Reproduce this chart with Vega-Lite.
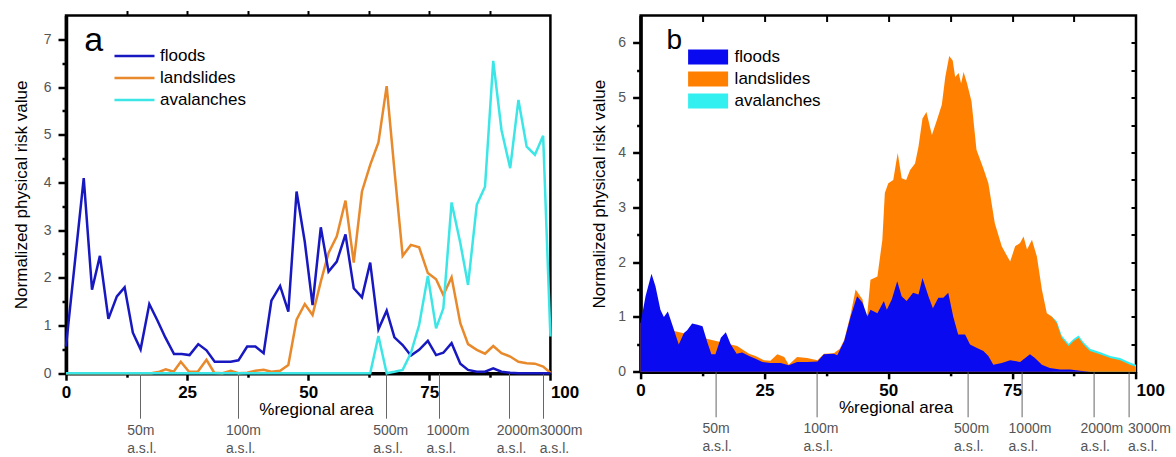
{
  "$schema": "https://vega.github.io/schema/vega-lite/v6.json",
  "padding": {"left": 10, "top": 7.5, "right": 0, "bottom": 0},
  "background": "#ffffff",
  "config": {
    "view": {"stroke": "#000000", "strokeWidth": 2.5, "strokeOpacity": 1},
    "font": "Liberation Sans",
    "axis": {"labelFont": "Liberation Sans", "titleFont": "Liberation Sans", "grid": false, "labelOverlap": false, "ticks": true,
      "domainColor": "#000000", "tickColor": "#000000", "domainWidth": 3.5, "tickWidth": 2.5, "tickOpacity": 1, "domainOpacity": 1}
  },
  "resolve": {"scale": {"color": "independent"}, "legend": {"color": "independent"}},
  "bounds": "flush",
  "spacing": 89.6,
  "datasets": {
    "a": [
      {"x": 0, "v": 0, "s": "landslides"}, {"x": 17.6, "v": 0, "s": "landslides"}, {"x": 19.3, "v": 0.03, "s": "landslides"}, {"x": 20.6, "v": 0.08, "s": "landslides"}, {"x": 22.2, "v": 0.03, "s": "landslides"}, {"x": 23.7, "v": 0.24, "s": "landslides"}, {"x": 25.4, "v": 0.03, "s": "landslides"}, {"x": 27.2, "v": 0.03, "s": "landslides"}, {"x": 29.0, "v": 0.28, "s": "landslides"}, {"x": 30.6, "v": 0.01, "s": "landslides"}, {"x": 32.3, "v": 0, "s": "landslides"}, {"x": 34.0, "v": 0.05, "s": "landslides"}, {"x": 35.6, "v": 0, "s": "landslides"}, {"x": 37.4, "v": 0.01, "s": "landslides"}, {"x": 39.1, "v": 0.05, "s": "landslides"}, {"x": 40.8, "v": 0.07, "s": "landslides"}, {"x": 42.4, "v": 0.03, "s": "landslides"}, {"x": 44.2, "v": 0.05, "s": "landslides"}, {"x": 45.9, "v": 0.17, "s": "landslides"}, {"x": 47.6, "v": 1.12, "s": "landslides"}, {"x": 49.3, "v": 1.45, "s": "landslides"}, {"x": 50.9, "v": 1.22, "s": "landslides"}, {"x": 52.6, "v": 1.92, "s": "landslides"}, {"x": 54.2, "v": 2.52, "s": "landslides"}, {"x": 55.9, "v": 2.87, "s": "landslides"}, {"x": 57.7, "v": 3.62, "s": "landslides"}, {"x": 59.4, "v": 2.32, "s": "landslides"}, {"x": 61.1, "v": 3.81, "s": "landslides"}, {"x": 62.8, "v": 4.37, "s": "landslides"}, {"x": 64.5, "v": 4.84, "s": "landslides"}, {"x": 66.2, "v": 6.02, "s": "landslides"}, {"x": 67.8, "v": 4.26, "s": "landslides"}, {"x": 69.5, "v": 2.46, "s": "landslides"}, {"x": 71.2, "v": 2.69, "s": "landslides"}, {"x": 72.9, "v": 2.64, "s": "landslides"}, {"x": 74.7, "v": 2.10, "s": "landslides"}, {"x": 76.4, "v": 1.97, "s": "landslides"}, {"x": 77.9, "v": 1.64, "s": "landslides"}, {"x": 79.6, "v": 2.01, "s": "landslides"}, {"x": 81.4, "v": 1.05, "s": "landslides"}, {"x": 83.0, "v": 0.61, "s": "landslides"}, {"x": 84.8, "v": 0.49, "s": "landslides"}, {"x": 86.5, "v": 0.41, "s": "landslides"}, {"x": 88.2, "v": 0.57, "s": "landslides"}, {"x": 89.9, "v": 0.42, "s": "landslides"}, {"x": 91.7, "v": 0.35, "s": "landslides"}, {"x": 93.4, "v": 0.24, "s": "landslides"}, {"x": 95.1, "v": 0.21, "s": "landslides"}, {"x": 96.8, "v": 0.20, "s": "landslides"}, {"x": 98.5, "v": 0.14, "s": "landslides"}, {"x": 100, "v": 0.01, "s": "landslides"},
      {"x": 0, "v": 0.56, "s": "floods"}, {"x": 3.66, "v": 4.09, "s": "floods"}, {"x": 5.37, "v": 1.75, "s": "floods"}, {"x": 7.0, "v": 2.46, "s": "floods"}, {"x": 8.75, "v": 1.14, "s": "floods"}, {"x": 10.5, "v": 1.61, "s": "floods"}, {"x": 12.1, "v": 1.80, "s": "floods"}, {"x": 13.8, "v": 0.85, "s": "floods"}, {"x": 15.4, "v": 0.50, "s": "floods"}, {"x": 17.2, "v": 1.45, "s": "floods"}, {"x": 18.9, "v": 1.10, "s": "floods"}, {"x": 20.5, "v": 0.75, "s": "floods"}, {"x": 22.3, "v": 0.40, "s": "floods"}, {"x": 23.9, "v": 0.40, "s": "floods"}, {"x": 25.5, "v": 0.38, "s": "floods"}, {"x": 27.3, "v": 0.61, "s": "floods"}, {"x": 29.0, "v": 0.48, "s": "floods"}, {"x": 30.7, "v": 0.24, "s": "floods"}, {"x": 32.3, "v": 0.24, "s": "floods"}, {"x": 34.0, "v": 0.24, "s": "floods"}, {"x": 35.6, "v": 0.27, "s": "floods"}, {"x": 37.4, "v": 0.56, "s": "floods"}, {"x": 39.1, "v": 0.56, "s": "floods"}, {"x": 40.8, "v": 0.42, "s": "floods"}, {"x": 42.4, "v": 1.52, "s": "floods"}, {"x": 44.2, "v": 1.83, "s": "floods"}, {"x": 45.9, "v": 1.29, "s": "floods"}, {"x": 47.6, "v": 3.81, "s": "floods"}, {"x": 49.3, "v": 2.75, "s": "floods"}, {"x": 50.9, "v": 1.43, "s": "floods"}, {"x": 52.6, "v": 3.06, "s": "floods"}, {"x": 54.2, "v": 2.13, "s": "floods"}, {"x": 55.9, "v": 2.34, "s": "floods"}, {"x": 57.7, "v": 2.91, "s": "floods"}, {"x": 59.4, "v": 1.78, "s": "floods"}, {"x": 61.1, "v": 1.59, "s": "floods"}, {"x": 62.8, "v": 2.32, "s": "floods"}, {"x": 64.5, "v": 0.92, "s": "floods"}, {"x": 66.2, "v": 1.31, "s": "floods"}, {"x": 67.8, "v": 0.75, "s": "floods"}, {"x": 69.5, "v": 0.59, "s": "floods"}, {"x": 71.2, "v": 0.37, "s": "floods"}, {"x": 72.9, "v": 0.49, "s": "floods"}, {"x": 74.7, "v": 0.68, "s": "floods"}, {"x": 76.4, "v": 0.38, "s": "floods"}, {"x": 77.9, "v": 0.43, "s": "floods"}, {"x": 79.6, "v": 0.63, "s": "floods"}, {"x": 81.4, "v": 0.20, "s": "floods"}, {"x": 83.0, "v": 0.07, "s": "floods"}, {"x": 84.8, "v": 0.03, "s": "floods"}, {"x": 86.5, "v": 0.03, "s": "floods"}, {"x": 88.2, "v": 0.10, "s": "floods"}, {"x": 89.9, "v": 0.03, "s": "floods"}, {"x": 91.7, "v": 0.01, "s": "floods"}, {"x": 93.4, "v": 0, "s": "floods"}, {"x": 100, "v": 0, "s": "floods"},
      {"x": 0, "v": 0, "s": "avalanches"}, {"x": 62.8, "v": 0, "s": "avalanches"}, {"x": 64.5, "v": 0.78, "s": "avalanches"}, {"x": 66.2, "v": 0, "s": "avalanches"}, {"x": 67.8, "v": 0.03, "s": "avalanches"}, {"x": 69.5, "v": 0.07, "s": "avalanches"}, {"x": 71.2, "v": 0.42, "s": "avalanches"}, {"x": 72.9, "v": 1.01, "s": "avalanches"}, {"x": 74.7, "v": 2.04, "s": "avalanches"}, {"x": 76.4, "v": 0.94, "s": "avalanches"}, {"x": 77.9, "v": 1.36, "s": "avalanches"}, {"x": 79.6, "v": 3.58, "s": "avalanches"}, {"x": 81.4, "v": 2.73, "s": "avalanches"}, {"x": 83.0, "v": 1.85, "s": "avalanches"}, {"x": 84.8, "v": 3.53, "s": "avalanches"}, {"x": 86.5, "v": 3.91, "s": "avalanches"}, {"x": 88.2, "v": 6.55, "s": "avalanches"}, {"x": 89.9, "v": 5.10, "s": "avalanches"}, {"x": 91.7, "v": 4.30, "s": "avalanches"}, {"x": 93.4, "v": 5.73, "s": "avalanches"}, {"x": 95.1, "v": 4.75, "s": "avalanches"}, {"x": 96.8, "v": 4.58, "s": "avalanches"}, {"x": 98.5, "v": 4.98, "s": "avalanches"}, {"x": 100, "v": 0.77, "s": "avalanches"}
    ],
    "b": [
      {"x": 83.0, "v": 1.01, "s": "avalanches"}, {"x": 84.0, "v": 0.92, "s": "avalanches"}, {"x": 85.0, "v": 0.66, "s": "avalanches"}, {"x": 86.4, "v": 0.51, "s": "avalanches"}, {"x": 87.4, "v": 0.60, "s": "avalanches"}, {"x": 88.4, "v": 0.66, "s": "avalanches"}, {"x": 89.4, "v": 0.54, "s": "avalanches"}, {"x": 90.7, "v": 0.42, "s": "avalanches"}, {"x": 92.7, "v": 0.36, "s": "avalanches"}, {"x": 94.8, "v": 0.29, "s": "avalanches"}, {"x": 96.8, "v": 0.25, "s": "avalanches"}, {"x": 98.8, "v": 0.17, "s": "avalanches"}, {"x": 100, "v": 0.13, "s": "avalanches"},
      {"x": 0, "v": 0.89, "s": "landslides"}, {"x": 18.2, "v": 0.50, "s": "landslides"}, {"x": 19.5, "v": 0.47, "s": "landslides"}, {"x": 20.5, "v": 0.41, "s": "landslides"}, {"x": 21.9, "v": 0.33, "s": "landslides"}, {"x": 23.2, "v": 0.29, "s": "landslides"}, {"x": 24.9, "v": 0.21, "s": "landslides"}, {"x": 26.2, "v": 0.20, "s": "landslides"}, {"x": 27.6, "v": 0.32, "s": "landslides"}, {"x": 29.0, "v": 0.27, "s": "landslides"}, {"x": 29.9, "v": 0.13, "s": "landslides"}, {"x": 31.6, "v": 0.27, "s": "landslides"}, {"x": 33.6, "v": 0.25, "s": "landslides"}, {"x": 35.7, "v": 0.21, "s": "landslides"}, {"x": 37.0, "v": 0.33, "s": "landslides"}, {"x": 39.0, "v": 0.34, "s": "landslides"}, {"x": 40.2, "v": 0.42, "s": "landslides"}, {"x": 41.1, "v": 0.58, "s": "landslides"}, {"x": 42.4, "v": 1.05, "s": "landslides"}, {"x": 43.4, "v": 1.50, "s": "landslides"}, {"x": 44.8, "v": 1.32, "s": "landslides"}, {"x": 45.6, "v": 0.90, "s": "landslides"}, {"x": 46.4, "v": 1.68, "s": "landslides"}, {"x": 47.8, "v": 1.74, "s": "landslides"}, {"x": 48.8, "v": 2.41, "s": "landslides"}, {"x": 49.3, "v": 3.26, "s": "landslides"}, {"x": 50.0, "v": 3.44, "s": "landslides"}, {"x": 51.0, "v": 3.50, "s": "landslides"}, {"x": 51.9, "v": 3.99, "s": "landslides"}, {"x": 52.7, "v": 3.53, "s": "landslides"}, {"x": 53.6, "v": 3.50, "s": "landslides"}, {"x": 54.4, "v": 3.68, "s": "landslides"}, {"x": 55.4, "v": 3.80, "s": "landslides"}, {"x": 56.1, "v": 4.11, "s": "landslides"}, {"x": 56.9, "v": 4.62, "s": "landslides"}, {"x": 57.7, "v": 4.74, "s": "landslides"}, {"x": 58.8, "v": 4.32, "s": "landslides"}, {"x": 59.8, "v": 4.59, "s": "landslides"}, {"x": 60.8, "v": 4.87, "s": "landslides"}, {"x": 61.5, "v": 5.38, "s": "landslides"}, {"x": 62.3, "v": 5.76, "s": "landslides"}, {"x": 63.0, "v": 5.68, "s": "landslides"}, {"x": 63.5, "v": 5.38, "s": "landslides"}, {"x": 64.2, "v": 5.45, "s": "landslides"}, {"x": 64.7, "v": 5.26, "s": "landslides"}, {"x": 65.2, "v": 5.47, "s": "landslides"}, {"x": 65.9, "v": 5.26, "s": "landslides"}, {"x": 66.8, "v": 4.93, "s": "landslides"}, {"x": 67.8, "v": 4.05, "s": "landslides"}, {"x": 69.2, "v": 3.71, "s": "landslides"}, {"x": 70.2, "v": 3.44, "s": "landslides"}, {"x": 71.5, "v": 2.71, "s": "landslides"}, {"x": 72.9, "v": 2.29, "s": "landslides"}, {"x": 74.6, "v": 2.01, "s": "landslides"}, {"x": 75.6, "v": 2.29, "s": "landslides"}, {"x": 76.6, "v": 2.35, "s": "landslides"}, {"x": 77.3, "v": 2.47, "s": "landslides"}, {"x": 78.0, "v": 2.23, "s": "landslides"}, {"x": 79.0, "v": 2.41, "s": "landslides"}, {"x": 80.0, "v": 2.10, "s": "landslides"}, {"x": 81.0, "v": 1.50, "s": "landslides"}, {"x": 82.0, "v": 1.07, "s": "landslides"}, {"x": 83.0, "v": 1.01, "s": "landslides"}, {"x": 84.0, "v": 0.89, "s": "landslides"}, {"x": 85.0, "v": 0.62, "s": "landslides"}, {"x": 86.4, "v": 0.47, "s": "landslides"}, {"x": 87.4, "v": 0.56, "s": "landslides"}, {"x": 88.4, "v": 0.62, "s": "landslides"}, {"x": 89.4, "v": 0.50, "s": "landslides"}, {"x": 90.7, "v": 0.38, "s": "landslides"}, {"x": 92.7, "v": 0.32, "s": "landslides"}, {"x": 94.8, "v": 0.25, "s": "landslides"}, {"x": 96.8, "v": 0.21, "s": "landslides"}, {"x": 98.8, "v": 0.13, "s": "landslides"}, {"x": 100, "v": 0.09, "s": "landslides"},
      {"x": 0, "v": 0.89, "s": "floods"}, {"x": 1.0, "v": 1.38, "s": "floods"}, {"x": 2.2, "v": 1.79, "s": "floods"}, {"x": 3.0, "v": 1.56, "s": "floods"}, {"x": 4.0, "v": 1.13, "s": "floods"}, {"x": 4.7, "v": 1.0, "s": "floods"}, {"x": 5.5, "v": 1.10, "s": "floods"}, {"x": 6.4, "v": 0.86, "s": "floods"}, {"x": 7.7, "v": 0.50, "s": "floods"}, {"x": 8.75, "v": 0.71, "s": "floods"}, {"x": 9.4, "v": 0.76, "s": "floods"}, {"x": 10.4, "v": 0.88, "s": "floods"}, {"x": 11.5, "v": 0.86, "s": "floods"}, {"x": 12.5, "v": 0.83, "s": "floods"}, {"x": 13.5, "v": 0.53, "s": "floods"}, {"x": 14.3, "v": 0.32, "s": "floods"}, {"x": 15.1, "v": 0.32, "s": "floods"}, {"x": 16.2, "v": 0.62, "s": "floods"}, {"x": 17.2, "v": 0.72, "s": "floods"}, {"x": 18.2, "v": 0.50, "s": "floods"}, {"x": 19.4, "v": 0.33, "s": "floods"}, {"x": 20.5, "v": 0.35, "s": "floods"}, {"x": 21.9, "v": 0.29, "s": "floods"}, {"x": 23.2, "v": 0.24, "s": "floods"}, {"x": 24.6, "v": 0.18, "s": "floods"}, {"x": 26.2, "v": 0.16, "s": "floods"}, {"x": 28.3, "v": 0.16, "s": "floods"}, {"x": 29.9, "v": 0.12, "s": "floods"}, {"x": 31.6, "v": 0.18, "s": "floods"}, {"x": 33.6, "v": 0.18, "s": "floods"}, {"x": 35.7, "v": 0.19, "s": "floods"}, {"x": 37.0, "v": 0.32, "s": "floods"}, {"x": 39.0, "v": 0.33, "s": "floods"}, {"x": 39.7, "v": 0.30, "s": "floods"}, {"x": 41.1, "v": 0.56, "s": "floods"}, {"x": 42.4, "v": 1.01, "s": "floods"}, {"x": 43.7, "v": 1.38, "s": "floods"}, {"x": 44.8, "v": 1.26, "s": "floods"}, {"x": 45.8, "v": 1.01, "s": "floods"}, {"x": 46.4, "v": 1.13, "s": "floods"}, {"x": 47.8, "v": 1.07, "s": "floods"}, {"x": 49.1, "v": 1.29, "s": "floods"}, {"x": 49.7, "v": 1.13, "s": "floods"}, {"x": 50.7, "v": 1.32, "s": "floods"}, {"x": 51.8, "v": 1.65, "s": "floods"}, {"x": 52.7, "v": 1.38, "s": "floods"}, {"x": 53.7, "v": 1.29, "s": "floods"}, {"x": 55.0, "v": 1.44, "s": "floods"}, {"x": 56.1, "v": 1.41, "s": "floods"}, {"x": 56.9, "v": 1.71, "s": "floods"}, {"x": 58.1, "v": 1.38, "s": "floods"}, {"x": 59.0, "v": 1.16, "s": "floods"}, {"x": 60.1, "v": 1.35, "s": "floods"}, {"x": 61.1, "v": 1.35, "s": "floods"}, {"x": 62.1, "v": 1.44, "s": "floods"}, {"x": 63.1, "v": 1.01, "s": "floods"}, {"x": 64.1, "v": 0.68, "s": "floods"}, {"x": 65.5, "v": 0.68, "s": "floods"}, {"x": 66.5, "v": 0.50, "s": "floods"}, {"x": 67.8, "v": 0.44, "s": "floods"}, {"x": 69.2, "v": 0.38, "s": "floods"}, {"x": 70.2, "v": 0.29, "s": "floods"}, {"x": 71.2, "v": 0.13, "s": "floods"}, {"x": 72.9, "v": 0.16, "s": "floods"}, {"x": 74.6, "v": 0.21, "s": "floods"}, {"x": 76.6, "v": 0.18, "s": "floods"}, {"x": 78.6, "v": 0.32, "s": "floods"}, {"x": 79.6, "v": 0.25, "s": "floods"}, {"x": 81.0, "v": 0.13, "s": "floods"}, {"x": 82.6, "v": 0.07, "s": "floods"}, {"x": 84.7, "v": 0.04, "s": "floods"}, {"x": 86.7, "v": 0.04, "s": "floods"}, {"x": 88.7, "v": 0.02, "s": "floods"}, {"x": 90.7, "v": 0, "s": "floods"}, {"x": 100, "v": 0, "s": "floods"}
    ],
    "elev": [
      {"x": 15.2, "elev": "50m"}, {"x": 35.6, "elev": "100m"}, {"x": 66.0, "elev": "500m"}, {"x": 77.0, "elev": "1000m"}, {"x": 91.5, "elev": "2000m"}, {"x": 98.5, "elev": "3000m"}
    ]
  },
  "hconcat": [
    {
      "width": 484.4,
      "height": 357.7,
      "resolve": {"axis": {"x": "independent", "y": "independent"}},
      "layer": [
        {
          "data": {"name": "a"},
          "mark": {"type": "line", "strokeWidth": 2.5},
          "encoding": {
            "x": {"field": "x", "type": "quantitative", "scale": {"domain": [0, 100], "nice": false, "zero": false},
              "axis": {"orient": "bottom", "values": [0, 12.5, 25, 37.5, 50, 62.5, 75, 87.5, 100], "ticks": true,
                "labelExpr": "datum.value % 25 === 0 ? format(datum.value, 'd') : ''",
                "tickSize": {"condition": {"test": "datum.value % 25 === 0", "value": 7}, "value": 4},
                "tickColor": "#000000", "tickWidth": 2.5,
                "labelFontSize": 17, "labelFontWeight": "bold", "labelColor": "#000", "labelPadding": 4,
                "labelAlign": {"condition": {"test": "datum.value === 100", "value": "left"}, "value": "center"},
                "title": "%regional area", "titleFontSize": 17, "titleFontWeight": "normal", "titleColor": "#000",
                "titleX": 250, "titleY": 28, "titleBaseline": "top", "titleAlign": "center"}},
            "y": {"field": "v", "type": "quantitative", "scale": {"domain": [0, 7.5], "nice": false},
              "axis": {"orient": "left", "values": [0, 0.5, 1, 1.5, 2, 2.5, 3, 3.5, 4, 4.5, 5, 5.5, 6, 6.5, 7], "ticks": true,
                "labelExpr": "datum.value % 1 === 0 ? format(datum.value, 'd') : ''",
                "tickSize": {"condition": {"test": "datum.value % 1 === 0", "value": 8}, "value": 4},
                "tickColor": "#000000", "tickWidth": 2.5,
                "labelFontSize": 14, "labelColor": "#555", "labelPadding": 7,
                "title": "Normalized physical risk value", "titleFontSize": 17, "titleFontWeight": "normal", "titleColor": "#000",
                "titleX": -45, "titleBaseline": "middle", "titleAngle": -90}},
            "color": {"field": "s", "type": "nominal",
              "scale": {"domain": ["floods", "landslides", "avalanches"], "range": ["#1818C0", "#E8892B", "#3DE6E6"]},
              "legend": {"orient": "none", "legendX": 60, "legendY": 32, "title": null, "symbolType": "M-4,0H4", "symbolSize": 100,
                "symbolStrokeWidth": 2.5, "labelFontSize": 17, "labelFont": "Liberation Sans", "labelColor": "#000",
                "rowPadding": 4, "labelOffset": 17, "padding": 0}}
          }
        },
        {
          "data": {"values": [{"label": "a", "x": 5.7, "y": 6.97}]},
          "mark": {"type": "text", "fontSize": 34, "font": "Liberation Sans", "align": "center", "baseline": "middle", "color": "#000"},
          "encoding": {
            "text": {"field": "label"},
            "x": {"field": "x", "type": "quantitative", "scale": {"domain": [0, 100], "nice": false, "zero": false},
              "axis": {"orient": "top", "values": [12.5, 25, 37.5, 50, 62.5, 75, 87.5], "labels": false, "domain": false, "ticks": true,
                "tickSize": 5, "tickColor": "#000000", "tickWidth": 2, "title": null}},
            "y": {"field": "y", "type": "quantitative", "scale": {"domain": [0, 7.5], "nice": false}, "axis": null}
          }
        },
        {
          "data": {"name": "elev"},
          "mark": {"type": "point", "opacity": 0},
          "encoding": {
            "x": {"field": "x", "type": "quantitative", "scale": {"domain": [0, 100], "nice": false, "zero": false},
              "axis": {"orient": "bottom", "values": [15.2, 35.6, 66.0, 77.0, 91.5, 98.5], "domain": false, "ticks": true,
                "tickSize": 45, "tickColor": "#666", "tickWidth": 1,
                "labelExpr": "[datum.value < 25 ? '50m' : datum.value < 50 ? '100m' : datum.value < 70 ? '500m' : datum.value < 85 ? '1000m' : datum.value < 95 ? '2000m' : '3000m', 'a.s.l.']",
                "labelFontSize": 14, "labelColor": "#555", "labelPadding": 5, "labelLineHeight": 18,
                "labelAlign": "left", "labelBaseline": "top",
                "labelOffset": {"condition": {"test": "datum.value > 95", "value": -4}, "value": -13},
                "title": null}},
            "y": {"datum": 0, "type": "quantitative", "scale": {"domain": [0, 7.5], "nice": false}, "axis": null}
          }
        }
      ]
    },
    {
      "width": 495.4,
      "height": 356.3,
      "resolve": {"axis": {"x": "independent", "y": "independent"}},
      "layer": [
        {
          "data": {"name": "b"},
          "transform": [{"filter": "datum.s === 'avalanches'"}],
          "mark": {"type": "area"},
          "encoding": {
            "x": {"field": "x", "type": "quantitative", "scale": {"domain": [0, 100], "nice": false, "zero": false},
              "axis": {"orient": "bottom", "values": [0, 12.5, 25, 37.5, 50, 62.5, 75, 87.5, 100], "ticks": true,
                "labelExpr": "datum.value % 25 === 0 ? format(datum.value, 'd') : ''",
                "tickSize": {"condition": {"test": "datum.value % 25 === 0", "value": 7}, "value": 4},
                "tickColor": "#000000", "tickWidth": 2.5,
                "labelFontSize": 17, "labelFontWeight": "bold", "labelColor": "#000", "labelPadding": 4,
                "labelAlign": {"condition": {"test": "datum.value === 100", "value": "left"}, "value": "center"},
                "title": "%regional area", "titleFontSize": 17, "titleFontWeight": "normal", "titleColor": "#000",
                "titleX": 255, "titleY": 28, "titleBaseline": "top", "titleAlign": "center"}},
            "y": {"field": "v", "type": "quantitative", "stack": null, "scale": {"domain": [0, 6.5], "nice": false},
              "axis": {"orient": "left", "values": [0, 0.5, 1, 1.5, 2, 2.5, 3, 3.5, 4, 4.5, 5, 5.5, 6], "ticks": true,
                "labelExpr": "datum.value % 1 === 0 ? format(datum.value, 'd') : ''",
                "tickSize": {"condition": {"test": "datum.value % 1 === 0", "value": 8}, "value": 4},
                "tickColor": "#000000", "tickWidth": 2.5,
                "labelFontSize": 14, "labelColor": "#555", "labelPadding": 7,
                "title": "Normalized physical risk value", "titleFontSize": 17, "titleFontWeight": "normal", "titleColor": "#000",
                "titleX": -41, "titleBaseline": "middle", "titleAngle": -90}},
            "color": {"field": "s", "type": "nominal",
              "scale": {"domain": ["floods", "landslides", "avalanches"], "range": ["#0A0AF0", "#FF8000", "#33F0F0"]},
              "legend": {"orient": "none", "legendX": 59, "legendY": 33, "title": null,
                "symbolType": "M-4,-1.5H4V1.5H-4Z", "symbolSize": 100, "symbolStrokeWidth": 0, "symbolOpacity": 1,
                "labelFontSize": 17, "labelFont": "Liberation Sans", "labelColor": "#000",
                "rowPadding": 4, "labelOffset": 18, "padding": 0}}
          }
        },
        {
          "data": {"name": "b"},
          "transform": [{"filter": "datum.s === 'landslides'"}],
          "mark": {"type": "area"},
          "encoding": {
            "x": {"field": "x", "type": "quantitative", "scale": {"domain": [0, 100], "nice": false, "zero": false}, "axis": null},
            "y": {"field": "v", "type": "quantitative", "stack": null, "scale": {"domain": [0, 6.5], "nice": false}, "axis": null},
            "color": {"field": "s", "type": "nominal"}
          }
        },
        {
          "data": {"name": "b"},
          "transform": [{"filter": "datum.s === 'floods'"}],
          "mark": {"type": "area"},
          "encoding": {
            "x": {"field": "x", "type": "quantitative", "scale": {"domain": [0, 100], "nice": false, "zero": false}, "axis": null},
            "y": {"field": "v", "type": "quantitative", "stack": null, "scale": {"domain": [0, 6.5], "nice": false}, "axis": null},
            "color": {"field": "s", "type": "nominal"}
          }
        },
        {
          "data": {"values": [{"label": "b", "x": 6.8, "y": 6.03}]},
          "mark": {"type": "text", "fontSize": 28, "font": "Liberation Sans", "align": "center", "baseline": "middle", "color": "#000"},
          "encoding": {
            "text": {"field": "label"},
            "x": {"field": "x", "type": "quantitative", "scale": {"domain": [0, 100], "nice": false, "zero": false},
              "axis": {"orient": "top", "values": [12.5, 25, 37.5, 50, 62.5, 75, 87.5], "labels": false, "domain": false, "ticks": true,
                "tickSize": -6, "tickColor": "#000000", "tickWidth": 2, "title": null}},
            "y": {"field": "y", "type": "quantitative", "scale": {"domain": [0, 6.5], "nice": false},
              "axis": {"orient": "right", "values": [0.5, 1, 1.5, 2, 2.5, 3, 3.5, 4, 4.5, 5, 5.5, 6], "labels": false, "domain": false, "ticks": true,
                "tickSize": -5, "tickColor": "#000000", "tickWidth": 2, "title": null}}
          }
        },
        {
          "data": {"name": "elev"},
          "mark": {"type": "point", "opacity": 0},
          "encoding": {
            "x": {"field": "x", "type": "quantitative", "scale": {"domain": [0, 100], "nice": false, "zero": false},
              "axis": {"orient": "bottom", "values": [15.2, 35.6, 66.0, 77.0, 91.5, 98.5], "domain": false, "ticks": true,
                "tickSize": 45, "tickColor": "#666", "tickWidth": 1,
                "labelExpr": "[datum.value < 25 ? '50m' : datum.value < 50 ? '100m' : datum.value < 70 ? '500m' : datum.value < 85 ? '1000m' : datum.value < 95 ? '2000m' : '3000m', 'a.s.l.']",
                "labelFontSize": 14, "labelColor": "#555", "labelPadding": 5, "labelLineHeight": 18,
                "labelAlign": "left", "labelBaseline": "top",
                "labelOffset": {"condition": {"test": "datum.value > 95", "value": -1}, "value": -14},
                "title": null}},
            "y": {"datum": 0, "type": "quantitative", "scale": {"domain": [0, 6.5], "nice": false}, "axis": null}
          }
        }
      ]
    }
  ]
}
